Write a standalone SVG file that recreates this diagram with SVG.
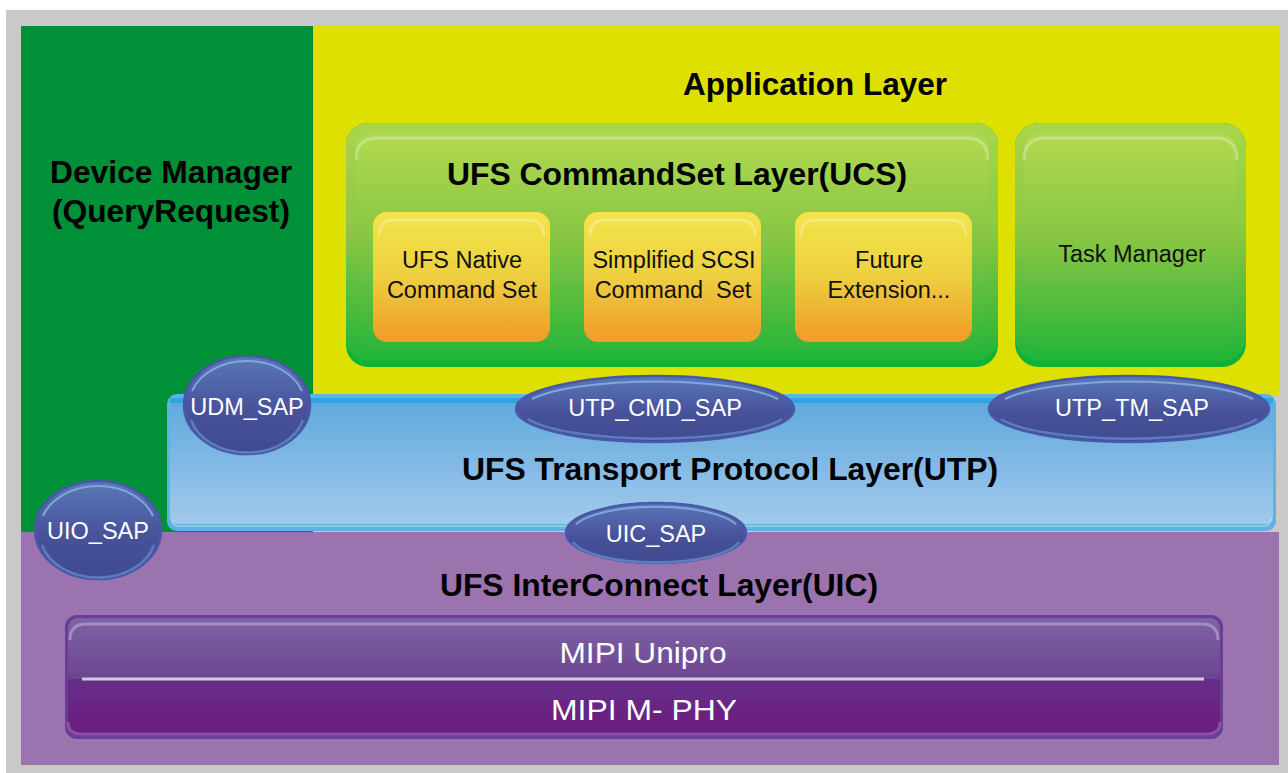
<svg xmlns="http://www.w3.org/2000/svg" width="1288" height="773" viewBox="0 0 1288 773">
  <defs>
    <linearGradient id="gGreen" x1="0" y1="0" x2="0" y2="1">
      <stop offset="0" stop-color="#a9d64c"/>
      <stop offset="0.45" stop-color="#8cc744"/>
      <stop offset="1" stop-color="#1fb43a"/>
    </linearGradient>
    <linearGradient id="gGreenIn" x1="0" y1="0" x2="0" y2="1">
      <stop offset="0" stop-color="#b2da50"/>
      <stop offset="0.5" stop-color="#86c543"/>
      <stop offset="1" stop-color="#2db63a"/>
    </linearGradient>
    <linearGradient id="gOrange" x1="0" y1="0" x2="0" y2="1">
      <stop offset="0" stop-color="#f3e54a"/>
      <stop offset="0.5" stop-color="#eed040"/>
      <stop offset="1" stop-color="#ef9e2a"/>
    </linearGradient>
    <linearGradient id="gBlue" x1="0" y1="0" x2="0" y2="1">
      <stop offset="0" stop-color="#5ea8dd"/>
      <stop offset="1" stop-color="#a2c9ec"/>
    </linearGradient>
    <linearGradient id="gSap" x1="0" y1="0" x2="0" y2="1">
      <stop offset="0" stop-color="#5b78b9"/>
      <stop offset="0.55" stop-color="#47529a"/>
      <stop offset="1" stop-color="#3f4a90"/>
    </linearGradient>
    <linearGradient id="gMipiTop" x1="0" y1="0" x2="0" y2="1">
      <stop offset="0" stop-color="#7e63a4"/>
      <stop offset="1" stop-color="#6d4592"/>
    </linearGradient>
    <linearGradient id="gMipiBot" x1="0" y1="0" x2="0" y2="1">
      <stop offset="0" stop-color="#672c88"/>
      <stop offset="1" stop-color="#6b1c80"/>
    </linearGradient>
    <style>
      .hd { font-family: "Liberation Sans", Arial, sans-serif; font-weight: bold; font-size: 31px; fill: #000; text-anchor: middle; }
      .lb { font-family: "Liberation Sans", Arial, sans-serif; font-size: 23.5px; fill: #111; text-anchor: middle; }
      .sap { font-family: "Liberation Sans", Arial, sans-serif; font-size: 23.5px; fill: #fff; text-anchor: middle; }
      .mipi { font-family: "Liberation Sans", Arial, sans-serif; font-size: 30px; fill: #fff; text-anchor: middle; }
      .sapShape { fill: url(#gSap); stroke: #4958a6; stroke-width: 2.5; }
      .sapHi { fill: none; stroke: #86b2e2; stroke-width: 2; opacity: 0.85; }
      .sapLo { fill: none; stroke: #5f82c4; stroke-width: 2.5; opacity: 0.9; }
      .rimHi { fill: none; stroke: #ffffff; stroke-opacity: 0.28; stroke-width: 3; }
    </style>
  </defs>

  <!-- frame -->
  <rect x="0" y="0" width="1288" height="773" fill="#ffffff"/>
  <rect x="6" y="10" width="1282" height="763" fill="#c8c9c8"/>

  <!-- layer backgrounds -->
  <g id="device-manager">
    <rect x="21" y="26" width="292" height="506" fill="#009038"/>
    <text class="hd" x="171" y="183" textLength="242" lengthAdjust="spacingAndGlyphs">Device Manager</text>
    <text class="hd" x="171" y="222" textLength="238" lengthAdjust="spacingAndGlyphs">(QueryRequest)</text>
  </g>

  <g id="application-layer">
    <rect x="313" y="26" width="966" height="370" fill="#dde000"/>
    <text class="hd" x="815" y="95" textLength="264" lengthAdjust="spacingAndGlyphs">Application Layer</text>
  </g>

  <g id="interconnect-layer">
    <rect x="21" y="532" width="1258" height="233" fill="#9b73ae"/>
    <text class="hd" x="659" y="596" textLength="438" lengthAdjust="spacingAndGlyphs">UFS InterConnect Layer(UIC)</text>
  </g>

  <!-- UFS CommandSet Layer -->
  <g id="ucs">
    <rect x="346" y="123" width="652" height="244" rx="22" fill="#0db336"/>
    <rect x="346" y="123" width="652" height="238" rx="22" fill="url(#gGreen)"/>
    <rect x="356" y="133" width="632" height="216" rx="16" fill="url(#gGreenIn)"/>
    <path d="M356,160 Q356,138 378,138 L966,138 Q988,138 988,160" class="rimHi" stroke-width="5"/>
    <text class="hd" x="677" y="185" textLength="460" lengthAdjust="spacingAndGlyphs">UFS CommandSet Layer(UCS)</text>
  </g>

  <g id="ufs-native">
    <rect x="373" y="212" width="177" height="130" rx="14" fill="#f0a02e"/>
    <rect x="373" y="212" width="177" height="126" rx="14" fill="url(#gOrange)"/>
    <path d="M379,236 Q379,220 394,220 L529,220 Q544,220 544,236" class="rimHi" stroke-width="4"/>
    <text class="lb" x="462" y="268">UFS Native</text>
    <text class="lb" x="462" y="298">Command Set</text>
  </g>

  <g id="simplified-scsi">
    <rect x="584" y="212" width="177" height="130" rx="14" fill="#f0a02e"/>
    <rect x="584" y="212" width="177" height="126" rx="14" fill="url(#gOrange)"/>
    <path d="M590,236 Q590,220 605,220 L740,220 Q755,220 755,236" class="rimHi" stroke-width="4"/>
    <text class="lb" x="674" y="268">Simplified SCSI</text>
    <text class="lb" x="673" y="298" xml:space="preserve">Command  Set</text>
  </g>

  <g id="future-extension">
    <rect x="795" y="212" width="177" height="130" rx="14" fill="#f0a02e"/>
    <rect x="795" y="212" width="177" height="126" rx="14" fill="url(#gOrange)"/>
    <path d="M801,236 Q801,220 816,220 L951,220 Q966,220 966,236" class="rimHi" stroke-width="4"/>
    <text class="lb" x="889" y="268">Future</text>
    <text class="lb" x="889" y="298">Extension...</text>
  </g>

  <g id="task-manager">
    <rect x="1015" y="123" width="231" height="244" rx="24" fill="#0db336"/>
    <rect x="1015" y="123" width="231" height="238" rx="24" fill="url(#gGreen)"/>
    <rect x="1024" y="133" width="213" height="216" rx="18" fill="url(#gGreenIn)"/>
    <path d="M1024,160 Q1024,138 1046,138 L1215,138 Q1237,138 1237,160" class="rimHi" stroke-width="5"/>
    <text class="lb" x="1132" y="262">Task Manager</text>
  </g>

  <!-- UFS Transport Protocol Layer -->
  <g id="utp">
    <rect x="167" y="394" width="1109" height="137" rx="10" fill="#5db3e4"/>
    <rect x="170" y="398" width="1103" height="126" rx="8" fill="url(#gBlue)"/>
    <rect x="170" y="398" width="1103" height="5" fill="#2ea5df"/>
    <path d="M172,520 Q172,526 180,526 L1263,526 Q1271,526 1271,518" fill="none" stroke="#ffffff" stroke-opacity="0.3" stroke-width="2"/>
    <text class="hd" x="730" y="480" textLength="536" lengthAdjust="spacingAndGlyphs">UFS Transport Protocol Layer(UTP)</text>
  </g>

  <!-- MIPI stack -->
  <g id="mipi">
    <rect x="65" y="615" width="1158" height="124" rx="12" fill="#6a3d96"/>
    <rect x="68" y="618" width="1152" height="62" rx="10" fill="url(#gMipiTop)"/>
    <rect x="68" y="679" width="1152" height="56" rx="10" fill="url(#gMipiBot)"/>
    <rect x="68" y="679" width="1152" height="20" fill="#672c88"/>
    <path d="M70,640 Q70,624 86,624 L1202,624 Q1218,624 1218,640" fill="none" stroke="#ffffff" stroke-opacity="0.3" stroke-width="3"/>
    <path d="M68,722 Q68,734 82,734 L1206,734 Q1220,734 1220,722" fill="none" stroke="#9a62b0" stroke-opacity="0.7" stroke-width="3"/>
    <line x1="82" y1="679" x2="1204" y2="679" stroke="#cfcdd4" stroke-width="3"/>
    <text class="mipi" x="643" y="663" textLength="167" lengthAdjust="spacingAndGlyphs">MIPI Unipro</text>
    <text class="mipi" x="644" y="720" textLength="186" lengthAdjust="spacingAndGlyphs">MIPI M- PHY</text>
  </g>

  <!-- service access points: body, rim highlight along the top, lighter rim along the bottom -->
  <g id="udm-sap">
    <ellipse class="sapShape" cx="247" cy="405" rx="63" ry="49"/>
    <path class="sapHi" d="M192,391 A58,44 0 0 1 302,391"/>
    <path class="sapLo" d="M191,420 A58,44 0 0 0 303,420"/>
    <text class="sap" x="247" y="415">UDM_SAP</text>
  </g>

  <g id="uio-sap">
    <ellipse class="sapShape" cx="98" cy="530" rx="63" ry="49"/>
    <path class="sapHi" d="M43,516 A58,44 0 0 1 153,516"/>
    <path class="sapLo" d="M42,545 A58,44 0 0 0 154,545"/>
    <text class="sap" x="98" y="539">UIO_SAP</text>
  </g>

  <g id="utp-cmd-sap">
    <ellipse class="sapShape" cx="655" cy="409" rx="139" ry="33"/>
    <path class="sapHi" d="M532,399 A134,29 0 0 1 778,399"/>
    <path class="sapLo" d="M528,419 A134,29 0 0 0 782,419"/>
    <text class="sap" x="655" y="416">UTP_CMD_SAP</text>
  </g>

  <g id="utp-tm-sap">
    <ellipse class="sapShape" cx="1129" cy="409" rx="140" ry="33"/>
    <path class="sapHi" d="M1005,399 A135,29 0 0 1 1253,399"/>
    <path class="sapLo" d="M1001,419 A135,29 0 0 0 1257,419"/>
    <text class="sap" x="1132" y="416">UTP_TM_SAP</text>
  </g>

  <g id="uic-sap">
    <ellipse class="sapShape" cx="656" cy="533" rx="90" ry="30"/>
    <path class="sapHi" d="M576,524 A85,26 0 0 1 736,524"/>
    <path class="sapLo" d="M573,542 A85,26 0 0 0 739,542"/>
    <text class="sap" x="656" y="542">UIC_SAP</text>
  </g>

  <!-- the layers meet directly; no connector lines are drawn -->
  <g id="connectors"/>
</svg>
